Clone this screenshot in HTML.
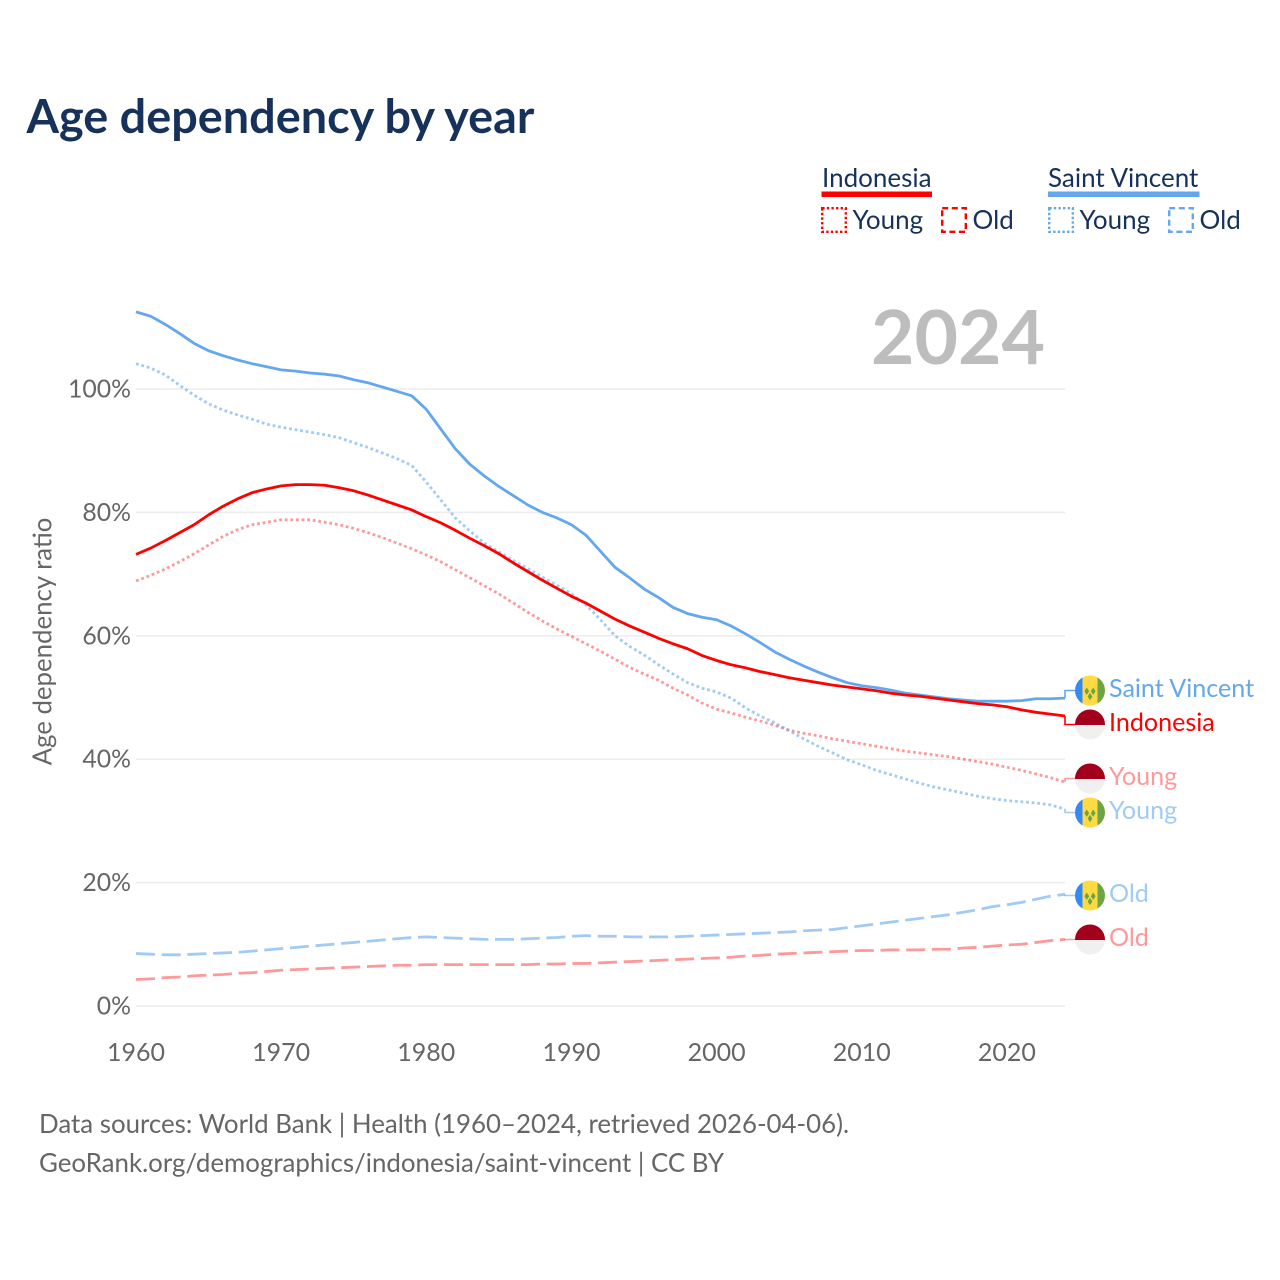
<!DOCTYPE html>
<html lang="en">
<head>
<meta charset="utf-8">
<title>Age dependency by year</title>
<style>
html,body{margin:0;padding:0;background:#fff;}
svg{display:block;}
text{font-family:"Lato","Carlito","Liberation Sans",sans-serif;}
</style>
</head>
<body>
<svg id="chart" xmlns="http://www.w3.org/2000/svg" width="1280" height="1280" viewBox="0 0 1280 1280">
  <rect x="0" y="0" width="1280" height="1280" fill="#ffffff"/>
  <defs>
    <clipPath id="flag-clip"><circle cx="15" cy="15" r="15"/></clipPath>
    <g id="flag-sv">
      <g clip-path="url(#flag-clip)">
        <rect x="0" y="0" width="7.5" height="30" fill="#338af3"/>
        <rect x="7.5" y="0" width="15" height="30" fill="#ffda44"/>
        <rect x="22.5" y="0" width="7.5" height="30" fill="#6da544"/>
        <polygon points="11.8,12 14.2,15.7 11.8,19.4 9.4,15.7" fill="#6da544"/>
        <polygon points="18.2,12 20.6,15.7 18.2,19.4 15.8,15.7" fill="#6da544"/>
        <polygon points="15,17.3 17.4,21 15,24.7 12.6,21" fill="#6da544"/>
      </g>
    </g>
    <g id="flag-id">
      <g clip-path="url(#flag-clip)">
        <rect x="0" y="0" width="30" height="15.5" fill="#a2001d"/>
        <rect x="0" y="15.5" width="30" height="14.5" fill="#f0f0f0"/>
      </g>
    </g>
  </defs>

  <text x="26.5" y="133" font-size="46.8" font-weight="700" fill="#17325a">Age dependency by year</text>

  <g fill="#17325a">
    <text x="822" y="187" font-size="26" fill="#17325a">Indonesia</text>
    <rect x="821.5" y="191.5" width="110.5" height="5.5" fill="#ff0000"/>
    <rect x="822.2" y="208.2" width="23.6" height="23.6" fill="none" stroke="#ff0000" stroke-width="2.4" stroke-dasharray="2.4 2.2"/>
    <text x="852.5" y="229" font-size="26" fill="#17325a">Young</text>
    <rect x="942.2" y="208.2" width="23.6" height="23.6" fill="none" stroke="#ff0000" stroke-width="2.4" stroke-dasharray="6 3.6"/>
    <text x="972.5" y="229" font-size="26" fill="#17325a">Old</text>

    <text x="1048" y="187" font-size="26" fill="#17325a">Saint Vincent</text>
    <rect x="1048" y="191.5" width="151.5" height="5.5" fill="#63a8ee"/>
    <rect x="1049.2" y="208.2" width="23.6" height="23.6" fill="none" stroke="#63a8ee" stroke-width="2.4" stroke-dasharray="2.4 2.2"/>
    <text x="1079.5" y="229" font-size="26" fill="#17325a">Young</text>
    <rect x="1169.2" y="208.2" width="23.6" height="23.6" fill="none" stroke="#63a8ee" stroke-width="2.4" stroke-dasharray="6 3.6"/>
    <text x="1199.5" y="229" font-size="26" fill="#17325a">Old</text>
  </g>

  <text x="871" y="364" font-size="75" font-weight="700" fill="#bdbdbd">2024</text>

  <g id="grid"></g>
  <g id="yticks"></g>
  <g id="xticks"></g>
  <text transform="translate(51.5,641.5) rotate(-90)" text-anchor="middle" font-size="25.8" fill="#666666">Age dependency ratio</text>
  <g id="series"></g>
  <g id="labels"></g>

  <text x="39" y="1133" font-size="25.87" fill="#666666">Data sources: World Bank | Health (1960–2024, retrieved 2026-04-06).</text>
  <text x="39" y="1172" font-size="25.87" fill="#666666">GeoRank.org/demographics/indonesia/saint-vincent | CC BY</text>
</svg>
<script>
const firstYear = 1960;
const lastYear = 2024;
const xTickYears = [1960, 1970, 1980, 1990, 2000, 2010, 2020];
const yTickValues = [0, 20, 40, 60, 80, 100];

const saintVincentTotal = [
  112.5,111.8,110.5,109,107.4,106.2,105.4,104.7,104.1,103.6,
  103.1,102.9,102.6,102.4,102.1,101.5,101,100.3,99.6,98.9,
  96.7,93.5,90.3,87.8,85.9,84.2,82.7,81.2,80,79.1,
  78,76.3,73.7,71.1,69.4,67.6,66.2,64.6,63.6,63,
  62.6,61.6,60.3,58.9,57.4,56.2,55.1,54.1,53.2,52.4,
  51.9,51.6,51.2,50.7,50.4,50.1,49.8,49.6,49.4,49.4,
  49.4,49.5,49.8,49.8,49.9
];
const saintVincentYoung = [
  104.1,103.4,102.3,100.6,99,97.6,96.6,95.8,95.1,94.3,
  93.8,93.4,93,92.6,92.1,91.3,90.5,89.6,88.7,87.6,
  84.9,82,79.1,77,75,73.6,72.2,70.9,69.5,68.2,
  66.8,65,62.6,60,58.3,56.9,55.3,53.8,52.4,51.5,
  50.9,49.9,48.3,47,45.9,44.6,43.3,42.1,41,39.9,
  39.1,38.2,37.5,36.8,36.1,35.5,35,34.5,34,33.6,
  33.3,33.1,32.9,32.6,31.9
];
const saintVincentOld = [
  8.5,8.4,8.3,8.3,8.4,8.5,8.6,8.7,8.9,9.1,
  9.3,9.5,9.7,9.9,10.1,10.3,10.5,10.7,10.9,11.1,
  11.2,11.1,11,10.9,10.8,10.8,10.8,10.9,11,11.1,
  11.3,11.4,11.3,11.3,11.2,11.2,11.2,11.2,11.3,11.4,
  11.5,11.6,11.7,11.8,11.9,12,12.2,12.3,12.4,12.7,
  13,13.3,13.6,13.9,14.2,14.5,14.8,15.2,15.6,16.1,
  16.4,16.8,17.3,17.8,18.1
];
const indonesiaTotal = [
  73.2,74.2,75.4,76.7,78,79.6,81,82.2,83.2,83.8,
  84.3,84.5,84.5,84.4,84,83.5,82.8,82,81.2,80.4,
  79.3,78.3,77.1,75.8,74.6,73.3,71.8,70.4,69,67.7,
  66.4,65.3,64,62.7,61.6,60.6,59.6,58.7,57.9,56.8,
  56,55.3,54.8,54.2,53.7,53.2,52.8,52.4,52,51.7,
  51.4,51.1,50.7,50.4,50.2,49.9,49.6,49.3,49,48.8,
  48.5,48,47.6,47.3,47
];
const indonesiaYoung = [
  68.9,69.8,70.8,72,73.3,74.7,76.1,77.2,78,78.4,
  78.8,78.8,78.8,78.4,78,77.4,76.7,75.9,75,74.1,
  73.1,72,70.7,69.4,68.1,66.8,65.3,63.8,62.4,61.1,
  59.9,58.7,57.5,56.2,54.9,53.8,52.8,51.5,50.4,49.1,
  48.1,47.5,46.8,46.2,45.5,44.7,44.2,43.8,43.3,42.9,
  42.5,42.1,41.7,41.3,41,40.7,40.4,40,39.6,39.2,
  38.7,38.2,37.6,37,36.3
];
const indonesiaOld = [
  4.3,4.4,4.6,4.7,4.9,5,5.1,5.3,5.4,5.6,
  5.8,5.9,6,6.1,6.2,6.3,6.4,6.5,6.6,6.6,
  6.7,6.7,6.7,6.7,6.7,6.7,6.7,6.7,6.8,6.8,
  6.9,6.9,7,7.1,7.2,7.3,7.4,7.5,7.6,7.7,
  7.8,7.9,8.1,8.2,8.4,8.5,8.6,8.7,8.8,8.9,
  9,9,9.1,9.1,9.1,9.2,9.2,9.4,9.5,9.7,
  9.9,10,10.3,10.6,10.8
];

const NS = 'http://www.w3.org/2000/svg';
function xScale(year) { return 136 + (year - firstYear) * (1065 - 136) / (lastYear - firstYear); }
function yScale(value) { return 1006 - value * 6.17; }
function make(tag, attrs, parent) {
  const el = document.createElementNS(NS, tag);
  for (const k in attrs) el.setAttribute(k, attrs[k]);
  parent.appendChild(el);
  return el;
}

const gridG = document.getElementById('grid');
const yTickG = document.getElementById('yticks');
const xTickG = document.getElementById('xticks');
const seriesG = document.getElementById('series');
const labelsG = document.getElementById('labels');

yTickValues.forEach(function (v) {
  const line = make('line', { x1: 136, x2: 1065, y1: yScale(v), y2: yScale(v), stroke: '#ececec', 'stroke-width': 1.5 }, gridG);
  
  
  const t = make('text', { x: 131, y: yScale(v) + 8.5, 'text-anchor': 'end', 'font-size': 24.8, fill: '#666666' }, yTickG);
  t.textContent = v + '%';
  
  
});

xTickYears.forEach(function (yr) {
  const t = make('text', { x: xScale(yr), y: 1061, 'text-anchor': 'middle', 'font-size': 25, fill: '#666666' }, xTickG);
  t.textContent = String(yr);
  
  
});

function linePath(values) {
  return values.map(function (v, i) {
    return (i ? 'L' : 'M') + xScale(firstYear + i).toFixed(2) + ' ' + yScale(v).toFixed(2);
  }).join(' ');
}

function drawSeries(values, color, opacity, dash, labelY, flagY, flagId, labelText) {
  const p = make('path', { d: linePath(values), fill: 'none', stroke: color, 'stroke-opacity': opacity, 'stroke-width': 2.8, 'stroke-dasharray': dash, 'stroke-linejoin': 'round' }, seriesG);
  
  
  const endY = yScale(values[values.length - 1]);
  const link = make('path', { d: 'M' + xScale(lastYear) + ' ' + endY.toFixed(2) + ' V' + labelY + ' H1076', fill: 'none', stroke: color, 'stroke-opacity': opacity, 'stroke-width': 1.6 }, labelsG);
  
  
  const flag = make('use', { href: flagId, x: 1075, y: flagY - 15 }, labelsG);
  
  
  const t = make('text', { x: 1109, y: flagY + 6.5, 'font-size': 25.1, fill: color, 'fill-opacity': opacity }, labelsG);
  t.textContent = labelText;
  
  
}

const RED = '#ff0000';
const BLUE = '#63a8ee';
drawSeries(indonesiaOld, RED, 0.4, '19 6.7', 939.5, 939.5, '#flag-id', 'Old');
drawSeries(saintVincentOld, BLUE, 0.6, '19 6.7', 895.5, 895.5, '#flag-sv', 'Old');
drawSeries(indonesiaYoung, RED, 0.4, '2.8 2.8', 778.5, 778.5, '#flag-id', 'Young');
drawSeries(saintVincentYoung, BLUE, 0.6, '2.8 2.8', 812.5, 812.5, '#flag-sv', 'Young');
drawSeries(saintVincentTotal, BLUE, 1, 'none', 690.5, 690.5, '#flag-sv', 'Saint Vincent');
drawSeries(indonesiaTotal, RED, 1, 'none', 724.5, 724.5, '#flag-id', 'Indonesia');
</script>
</body>
</html>
